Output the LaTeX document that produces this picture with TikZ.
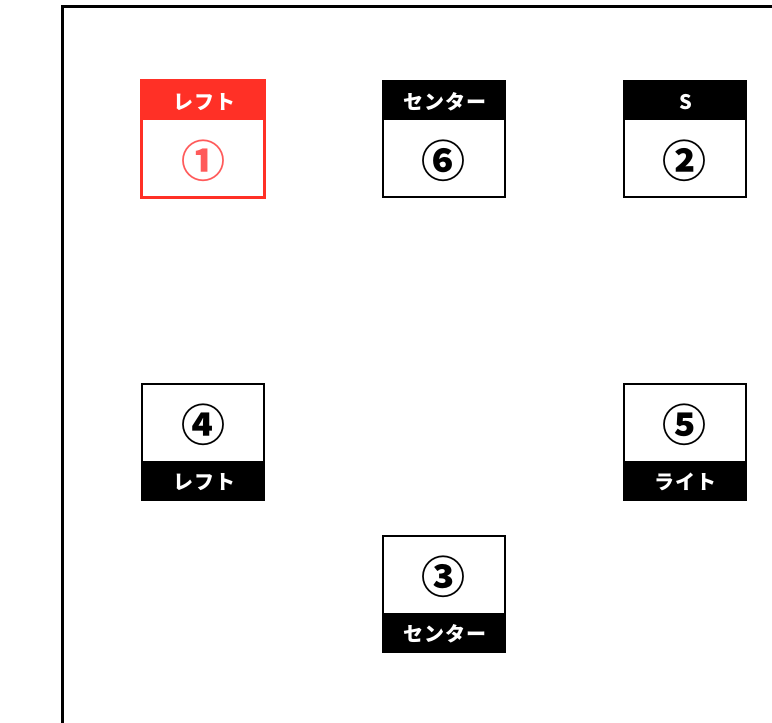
\documentclass[tikz,border=0pt]{standalone}
\usepackage{fontspec}
\newfontfamily\jp{Noto Sans CJK JP}
\newfontfamily\jphd{Noto Sans CJK JP}[LetterSpace=5]
\definecolor{hdred}{RGB}{255,48,38}
\definecolor{numred}{RGB}{255,90,90}
\tikzset{
  box/.style={draw=black, line width=2pt, fill=white, minimum width=122pt, minimum height=116pt, inner sep=0pt},
  hdtext/.style={text=white, font=\jphd\bfseries\fontsize{20}{20}\selectfont, inner sep=0pt},
  numtext/.style={font=\jp\bfseries\fontsize{44}{44}\selectfont, inner sep=0pt},
  frame/.style={line width=2.2pt, black}
}
\begin{document}
\begin{tikzpicture}[x=1pt,y=-1pt]
\useasboundingbox (0,0) rectangle (772,723);
\fill[white] (0,0) rectangle (772,723);
\coordinate (fb) at (62.5,723);
\coordinate (fc) at (62.5,6.5);
\coordinate (fr) at (772,6.5);
\draw[frame] (fb) -- (fc) -- (fr);

% Box 1 (red, header top)
\node[box, draw=hdred] (b1) at (203,139) {};
\fill[hdred] (b1.north west) rectangle ([yshift=-40pt]b1.north east);
\draw[hdred, line width=2pt] (b1.north west) rectangle (b1.south east);
\node[hdtext] (h1) at ([xshift=1pt,yshift=-22pt]b1.north) {レフト};
\node[numtext, text=numred] (n1) at ([yshift=-81pt]b1.north) {①};

% Box 6
\node[box] (b6) at (443.5,139) {};
\fill[black] (b6.north west) rectangle ([yshift=-40pt]b6.north east);
\node[hdtext] (h6) at ([xshift=1pt,yshift=-22pt]b6.north) {センター};
\node[numtext] (n6) at ([yshift=-81pt]b6.north) {⑥};

% Box 2
\node[box] (b2) at (684.5,139) {};
\fill[black] (b2.north west) rectangle ([yshift=-40pt]b2.north east);
\node[hdtext] (h2) at ([xshift=1pt,yshift=-22pt]b2.north) {S};
\node[numtext] (n2) at ([yshift=-81pt]b2.north) {②};

% Box 4 (footer)
\node[box] (b4) at (203,442) {};
\fill[black] (b4.south west) rectangle ([yshift=40pt]b4.south east);
\node[hdtext] (h4) at ([xshift=1pt,yshift=19pt]b4.south) {レフト};
\node[numtext] (n4) at ([yshift=-42pt]b4.north) {④};

% Box 5
\node[box] (b5) at (684.5,442) {};
\fill[black] (b5.south west) rectangle ([yshift=40pt]b5.south east);
\node[hdtext] (h5) at ([xshift=1pt,yshift=19pt]b5.south) {ライト};
\node[numtext] (n5) at ([yshift=-42pt]b5.north) {⑤};

% Box 3
\node[box] (b3) at (443.5,593.5) {};
\fill[black] (b3.south west) rectangle ([yshift=40pt]b3.south east);
\node[hdtext] (h3) at ([xshift=1pt,yshift=19pt]b3.south) {センター};
\node[numtext] (n3) at ([yshift=-42pt]b3.north) {③};
\end{tikzpicture}
\end{document}
